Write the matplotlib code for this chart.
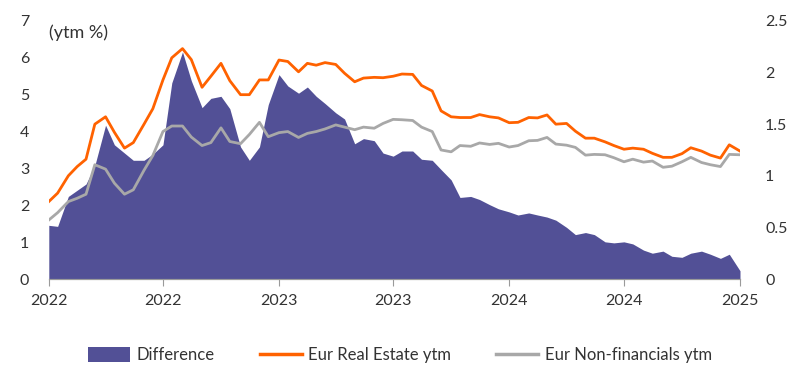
import matplotlib
matplotlib.use("Agg")
import matplotlib.dates as mdates
import matplotlib.pyplot as plt
import pandas as pd
from matplotlib.lines import Line2D
from matplotlib.patches import Patch

# semi-monthly observations, Jan 2022 - Jan 2025
dates = pd.date_range("2022-01-01", periods=73, freq="SMS")

real_estate = [
    2.10, 2.33, 2.80, 3.05, 3.25, 4.20, 4.40, 3.98, 3.55, 3.70,
    4.20, 4.62, 5.40, 6.00, 6.25, 5.95, 5.20, 5.50, 5.85, 5.38,
    5.00, 5.00, 5.40, 5.40, 5.94, 5.90, 5.62, 5.85, 5.80, 5.87,
    5.82, 5.58, 5.35, 5.45, 5.47, 5.46, 5.50, 5.56, 5.55, 5.25,
    5.10, 4.56, 4.40, 4.38, 4.38, 4.46, 4.40, 4.37, 4.24, 4.25,
    4.38, 4.37, 4.45, 4.20, 4.22, 4.01, 3.82, 3.82, 3.72, 3.62,
    3.52, 3.55, 3.52, 3.41, 3.30, 3.30, 3.40, 3.56, 3.47, 3.36,
    3.28, 3.64, 3.47,
]
non_financials = [
    1.60, 1.80, 2.10, 2.19, 2.30, 3.10, 2.98, 2.60, 2.30, 2.42,
    2.95, 3.35, 4.00, 4.15, 4.15, 3.85, 3.62, 3.70, 4.10, 3.73,
    3.67, 3.92, 4.25, 3.86, 3.97, 4.00, 3.84, 3.95, 4.00, 4.07,
    4.18, 4.12, 4.05, 4.12, 4.09, 4.22, 4.33, 4.32, 4.30, 4.12,
    4.00, 3.50, 3.45, 3.62, 3.60, 3.69, 3.65, 3.68, 3.58, 3.62,
    3.75, 3.76, 3.84, 3.66, 3.63, 3.57, 3.36, 3.38, 3.37, 3.29,
    3.18, 3.25, 3.17, 3.20, 3.03, 3.06, 3.18, 3.30, 3.16, 3.10,
    3.05, 3.38, 3.37,
]
difference = [
    0.52, 0.51, 0.80, 0.86, 0.92, 1.10, 1.49, 1.30, 1.22, 1.15,
    1.15, 1.21, 1.30, 1.90, 2.20, 1.92, 1.66, 1.75, 1.77, 1.65,
    1.28, 1.15, 1.28, 1.69, 1.98, 1.87, 1.80, 1.86, 1.77, 1.70,
    1.61, 1.55, 1.31, 1.36, 1.34, 1.22, 1.19, 1.24, 1.24, 1.16,
    1.15, 1.06, 0.96, 0.79, 0.80, 0.77, 0.72, 0.68, 0.65, 0.62,
    0.64, 0.62, 0.60, 0.57, 0.50, 0.43, 0.45, 0.43, 0.36, 0.35,
    0.36, 0.34, 0.28, 0.25, 0.27, 0.22, 0.21, 0.25, 0.27, 0.24,
    0.20, 0.24, 0.08,
]

PURPLE = "#525096"
ORANGE = "#FF6200"
GREY = "#A8A8A8"
TEXT = "#333333"

plt.rcParams.update({
    "font.family": ["Lato", "DejaVu Sans"],
    "font.size": 11.5,
    "text.color": TEXT,
    "xtick.color": TEXT,
    "ytick.color": TEXT,
})

fig = plt.figure(figsize=(8, 3.74), dpi=100)
ax = fig.add_axes([0.061, 0.254, 0.864, 0.69])
ax2 = ax.twinx()

ax2.fill_between(dates, 0, difference, color=PURPLE, linewidth=0)
ax.plot(dates, real_estate, color=ORANGE, linewidth=2.0)
ax.plot(dates, non_financials, color=GREY, linewidth=2.0)

# lines above the area
ax.set_zorder(ax2.get_zorder() + 1)
ax.patch.set_visible(False)

ax.set_xlim(dates[0], dates[-1])
ax.set_ylim(0, 7)
ax2.set_ylim(0, 2.5)
ax.set_yticks(range(0, 8))
ax2.set_yticks([0, 0.5, 1, 1.5, 2, 2.5], ["0", "0.5", "1", "1.5", "2", "2.5"])

ax.xaxis.set_major_locator(mdates.MonthLocator(bymonth=[1, 7]))
ax.xaxis.set_major_formatter(mdates.DateFormatter("%Y"))

for a in (ax, ax2):
    for side in ("top", "right", "left"):
        a.spines[side].set_visible(False)
    a.spines["bottom"].set_color("#9A9A9A")
    a.tick_params(axis="y", length=0)
ax.tick_params(axis="y", pad=14)
ax2.tick_params(axis="y", pad=18)
ax.tick_params(axis="x", length=5, color="#9A9A9A", pad=6)

ax.text(0.0, 0.985, "(ytm %)", transform=ax.transAxes, ha="left", va="top",
        fontsize=13)

handles = [
    Patch(facecolor=PURPLE, edgecolor="none"),
    Line2D([], [], color=ORANGE, linewidth=2.5),
    Line2D([], [], color=GREY, linewidth=2.5),
]
labels = ["Difference", "Eur Real Estate ytm", "Eur Non-financials ytm"]
fig.legend(handles, labels, loc="center", bbox_to_anchor=(0.5, 0.05), ncol=3,
           frameon=False, handlelength=2.5, handleheight=1.0, columnspacing=2.7,
           handletextpad=0.4, fontsize=12)

fig.savefig("out.png", dpi=100)
